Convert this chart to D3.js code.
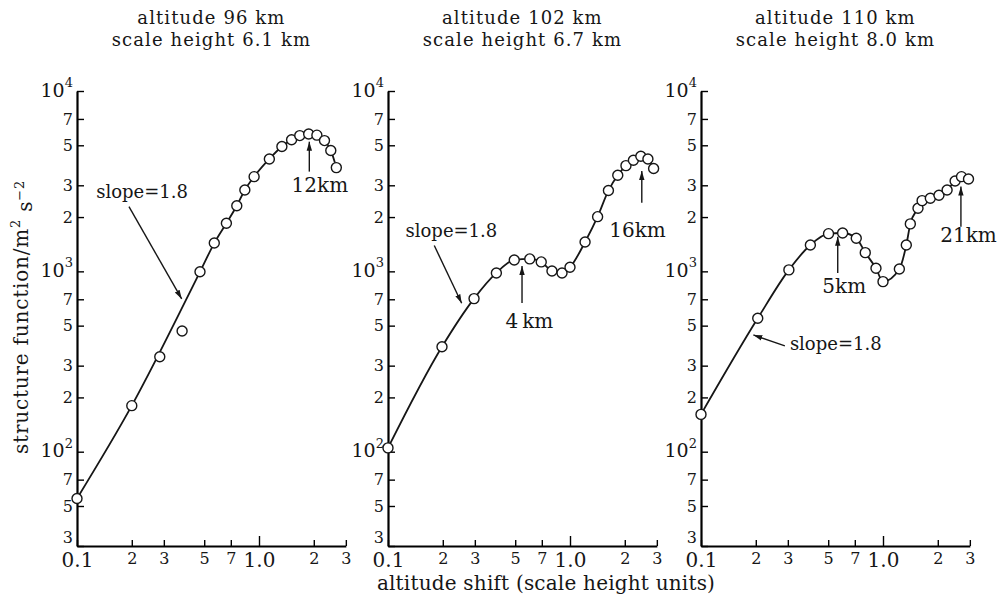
<!DOCTYPE html>
<html>
<head>
<meta charset="utf-8">
<script src="https://cdn.jsdelivr.net/npm/d3@7"></script>
<style>
body { margin: 0; background: #fff; }
text { font-family: "DejaVu Serif", serif; fill: #161616; }
</style>
</head>
<body>
<div id="chart"></div>
<script>
/* Axis ticks */
var xTicks = [0.1, 0.2, 0.3, 0.5, 0.7, 1.0, 2, 3];
var xTickLabels = ["0.1", "2", "3", "5", "7", "1.0", "2", "3"];
var yTicks = [30, 50, 70, 100, 200, 300, 500, 700, 1000, 2000, 3000, 5000, 7000, 10000];
var yTickLabels = ["3", "5", "7", "10^2", "2", "3", "5", "7", "10^3", "2", "3", "5", "7", "10^4"];

/* Panel titles */
var titles = [
    ["altitude 96 km", "scale height 6.1 km"],
    ["altitude 102 km", "scale height 6.7 km"],
    ["altitude 110 km", "scale height 8.0 km"]
];

/* altitude 96 km: shift (scale heights) and structure function (m2 s-2) */
var shift96 = [0.1, 0.2, 0.285, 0.378, 0.474, 0.568, 0.662, 0.755, 0.836, 0.94, 1.14, 1.336, 1.51, 1.675, 1.875, 2.08, 2.29, 2.48, 2.66];
var sf96    = [55, 180, 336, 467, 994, 1435, 1849, 2312, 2826, 3350, 4200, 4920, 5370, 5660, 5780, 5690, 5310, 4680, 3760];
var fit96   = [1, 1, 0, 0, 1, 1, 1, 1, 1, 1, 1, 1, 1, 1, 1, 1, 1, 1, 1];

/* altitude 102 km */
var shift102 = [0.1, 0.198, 0.297, 0.394, 0.494, 0.601, 0.695, 0.796, 0.904, 1.0, 1.21, 1.418, 1.626, 1.83, 2.03, 2.23, 2.45, 2.68, 2.88];
var sf102    = [105, 382, 706, 980, 1157, 1172, 1128, 1005, 980, 1054, 1455, 2010, 2805, 3410, 3856, 4130, 4350, 4200, 3715];
var fit102   = [1, 1, 1, 1, 1, 1, 1, 1, 1, 1, 1, 1, 1, 1, 1, 1, 1, 1, 1];

/* altitude 110 km */
var shift110 = [0.1, 0.205, 0.304, 0.399, 0.502, 0.6, 0.713, 0.799, 0.915, 1.0, 1.23, 1.343, 1.413, 1.557, 1.64, 1.82, 2.03, 2.25, 2.49, 2.7, 2.95];
var sf110    = [161, 549, 1019, 1400, 1618, 1632, 1527, 1270, 1040, 877, 1031, 1400, 1833, 2240, 2466, 2543, 2640, 2826, 3170, 3350, 3250];
var fit110   = [1, 1, 1, 1, 1, 1, 1, 1, 1, 1, 1, 1, 1, 1, 1, 1, 1, 1, 1, 1, 1];

/* Annotations in data units: label at (tx, ty), arrow from (x1, y1) to (x2, y2) */
var notes96 = [
    {text: "slope=1.8", tx: 0.2276, ty: 2553, x1: 0.193, y1: 2286, x2: 0.376, y2: 703},
    {text: "12km", tx: 2.16, ty: 2754, x1: 1.89, y1: 3573, x2: 1.89, y2: 5235}
];
var notes102 = [
    {text: "slope=1.8", tx: 0.223, ty: 1556, x1: 0.1796, y1: 1390, x2: 0.254, y2: 665},
    {text: "4\u2009km", tx: 0.598, ty: 486, x1: 0.545, y1: 668, x2: 0.545, y2: 1071},
    {text: "16km", tx: 2.35, ty: 1556, x1: 2.48, y1: 2403, x2: 2.48, y2: 3606}
];
var notes110 = [
    {text: "slope=1.8", tx: 0.55, ty: 366, x1: 0.289, y1: 386, x2: 0.194, y2: 444},
    {text: "5km", tx: 0.612, ty: 756, x1: 0.564, y1: 980, x2: 0.564, y2: 1556},
    {text: "21km", tx: 2.95, ty: 1462, x1: 2.68, y1: 1770, x2: 2.68, y2: 2951}
];

var width = 1001, svgheight = 607;
var plotTop = 91, plotBottom = 546, decade = 182;
var panelLeft = [77, 388, 701];

var theSVG = d3.select("#chart")
    .append("svg")
    .attr("width", width)
    .attr("height", svgheight);

/* Arrowhead marker */
theSVG.append("defs").append("marker")
    .attr("id", "arrowhead")
    .attr("viewBox", "0 -5 10 10")
    .attr("refX", 10)
    .attr("refY", 0)
    .attr("markerUnits", "userSpaceOnUse")
    .attr("markerWidth", 9)
    .attr("markerHeight", 9)
    .attr("orient", "auto")
    .append("path")
    .attr("d", "M0,-3L10,0L0,3Z")
    .attr("fill", "#161616");

var y = d3.scaleLog().domain([30, 10000]).range([plotBottom, plotTop]);

function drawPanel (i, shift, sf, fit, notes)
{
    var left = panelLeft[i];
    var x = d3.scaleLog().domain([0.1, 3]).range([left, left + decade * Math.log10(30)]);
    var g = theSVG.append("g");

    /* Title */
    var cx = (x.range()[0] + x.range()[1]) / 2;
    titles[i].forEach(function (t, k) {
        g.append("text")
            .attr("x", cx)
            .attr("y", 24 + k * 22)
            .attr("text-anchor", "middle")
            .attr("font-size", 18)
            .attr("letter-spacing", 1.1)
            .text(t);
    });

    /* Y axis */
    var yAxis = g.append("g")
        .attr("transform", "translate(" + left + ",0)")
        .call(d3.axisLeft(y).tickValues(yTicks)
            .tickFormat(function (d, j) { return yTickLabels[j]; })
            .tickSizeInner(-7).tickSizeOuter(0).tickPadding(4));
    yAxis.attr("font-family", null).attr("font-size", 16);
    yAxis.select(".domain").attr("stroke-width", 2.2);
    yAxis.selectAll(".tick line").attr("stroke-width", 1.4);
    yAxis.selectAll(".tick text").each(function (d) {
        var t = d3.select(this), s = t.text();
        if (d === y.domain()[0]) t.attr("dy", "-0.2em");
        if (s.indexOf("^") >= 0) {
            var p = s.split("^");
            t.text(null);
            t.append("tspan").attr("font-size", 19).text(p[0]);
            t.append("tspan").attr("font-size", 13).attr("dy", "-0.75em").text(p[1]);
        }
    });

    /* X axis */
    var xAxis = g.append("g")
        .attr("transform", "translate(0," + plotBottom + ")")
        .call(d3.axisBottom(x).tickValues(xTicks)
            .tickFormat(function (d, j) { return xTickLabels[j]; })
            .tickSizeInner(-6).tickSizeOuter(0).tickPadding(7));
    xAxis.attr("font-family", null).attr("font-size", 16);
    xAxis.select(".domain").attr("stroke-width", 2.2);
    xAxis.selectAll(".tick line").attr("stroke-width", 1.4)
        .attr("y2", function (d) { return d === 1 ? -10 : -6; });
    xAxis.selectAll(".tick text")
        .attr("font-size", function (d, j) { return xTickLabels[j].indexOf(".") >= 0 ? 20 : 16; });

    /* Fitted curve */
    var pts = shift.map(function (s, k) { return [s, sf[k], fit[k]]; });
    var line = d3.line()
        .x(function (d) { return x(d[0]); })
        .y(function (d) { return y(d[1]); })
        .curve(d3.curveMonotoneX);
    g.append("path")
        .datum(pts.filter(function (d) { return d[2]; }))
        .attr("d", line)
        .attr("fill", "none")
        .attr("stroke", "#161616")
        .attr("stroke-width", 1.8);

    /* Measured points */
    g.selectAll("circle.pt").data(pts).enter().append("circle")
        .attr("class", "pt")
        .attr("cx", function (d) { return x(d[0]); })
        .attr("cy", function (d) { return y(d[1]); })
        .attr("r", 5)
        .attr("fill", "#fff")
        .attr("stroke", "#161616")
        .attr("stroke-width", 1.4);

    /* Annotations */
    notes.forEach(function (n) {
        g.append("line")
            .attr("x1", x(n.x1)).attr("y1", y(n.y1))
            .attr("x2", x(n.x2)).attr("y2", y(n.y2))
            .attr("stroke", "#161616")
            .attr("stroke-width", 1.4)
            .attr("marker-end", "url(#arrowhead)");
        g.append("text")
            .attr("x", x(n.tx))
            .attr("y", y(n.ty))
            .attr("text-anchor", "middle")
            .attr("font-size", n.text.indexOf("slope") === 0 ? 18 : 20)
            .text(n.text);
    });
}

drawPanel(0, shift96, sf96, fit96, notes96);
drawPanel(1, shift102, sf102, fit102, notes102);
drawPanel(2, shift110, sf110, fit110, notes110);

/* Axis titles */
var yTitle = theSVG.append("text")
    .attr("transform", "translate(28,454) rotate(-90)")
    .attr("text-anchor", "start")
    .attr("font-size", 20)
    .attr("letter-spacing", 0.8);
yTitle.append("tspan").text("structure function/m");
yTitle.append("tspan").attr("font-size", 13).attr("dy", "-0.6em").text("2");
yTitle.append("tspan").attr("dy", "0.6em").text(" s");
yTitle.append("tspan").attr("font-size", 13).attr("dy", "-0.6em").text("\u22122");

theSVG.append("text")
    .attr("x", 546)
    .attr("y", 590)
    .attr("text-anchor", "middle")
    .attr("font-size", 20)
    .attr("letter-spacing", 0.2)
    .text("altitude shift (scale height units)");
</script>
</body>
</html>
